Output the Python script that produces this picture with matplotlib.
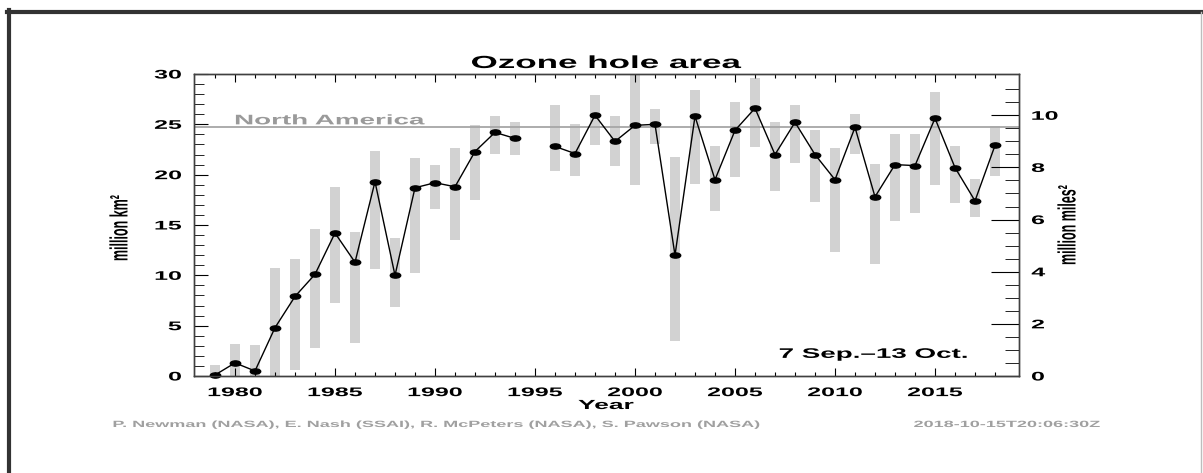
import numpy as np
import matplotlib
matplotlib.use("Agg")
import matplotlib.pyplot as plt
from matplotlib.lines import Line2D
from matplotlib.path import Path
from matplotlib.patheffects import AbstractPathEffect
from matplotlib.transforms import Affine2D

years = np.arange(1979, 2019)
mean_area = [0.1, 1.3, 0.5, 4.8, 7.9, 10.1, 14.2, 11.3, 19.3, 10.0,
             18.7, 19.2, 18.8, 22.3, 24.2, 23.6, np.nan, 22.8, 22.1, 25.9,
             23.3, 24.9, 25.0, 12.0, 25.8, 19.5, 24.4, 26.6, 22.0, 25.2,
             22.0, 19.5, 24.7, 17.8, 21.0, 20.9, 25.6, 20.7, 17.4, 22.9]
min_area = [0.0, 0.0, 0.0, 0.0, 0.6, 2.8, 7.3, 3.3, 10.6, 6.9,
            10.2, 16.6, 13.5, 17.5, 22.1, 22.0, np.nan, 20.4, 19.9, 22.9,
            20.9, 19.0, 23.0, 3.5, 19.1, 16.4, 19.8, 22.7, 18.4, 21.2,
            17.3, 12.3, 22.1, 11.1, 15.4, 16.2, 19.0, 17.2, 15.8, 19.9]
max_area = [1.1, 3.2, 3.1, 10.7, 11.6, 14.6, 18.8, 14.3, 22.4, 13.7,
            21.7, 21.0, 22.6, 24.9, 25.8, 25.2, np.nan, 26.9, 25.0, 27.9,
            25.8, 30.0, 26.5, 21.8, 28.4, 22.8, 27.2, 29.6, 25.2, 26.9,
            24.4, 22.6, 26.0, 21.1, 24.0, 24.0, 28.2, 22.8, 19.6, 24.8]
north_america = 24.7
km2_per_mile2 = 2.58999
xticks = [1980, 1985, 1990, 1995, 2000, 2005, 2010, 2015]
yticks_km = [0, 5, 10, 15, 20, 25, 30]
yticks_mi = [0, 2, 4, 6, 8, 10]

W, H = 1203, 473
SX = 2.0


class Widen(AbstractPathEffect):
    # the source image is stretched sideways, so widen glyphs the same way
    def __init__(self, anchor="center", sx=SX):
        super().__init__()
        self.anchor = anchor
        self.sx = sx

    def draw_path(self, renderer, gc, tpath, affine, rgbFace=None):
        ext = tpath.get_extents(affine)
        x0 = {"left": ext.x0, "center": 0.5 * (ext.x0 + ext.x1), "right": ext.x1}[self.anchor]
        aff = affine + Affine2D().translate(-x0, 0).scale(self.sx, 1).translate(x0, 0)
        renderer.draw_path(gc, tpath, aff, rgbFace)


def fx(px):
    return px / W


def fy(py):
    return 1 - py / H


plt.rcParams["font.family"] = ["Liberation Sans", "DejaVu Sans"]
plt.rcParams["font.weight"] = "bold"

fig = plt.figure(figsize=(W / 100, H / 100), dpi=100)
fig.patch.set_facecolor("white")
ax = fig.add_axes([fx(194), fy(376), fx(1019) - fx(194), fy(74) - fy(376)])

mean_arr = np.array(mean_area)
lo = np.array(min_area)
hi = np.array(max_area)
ax.bar(years, hi - lo, bottom=lo, width=0.5, color="#d2d2d2", zorder=1)
ax.axhline(north_america, color="#a6a6a6", lw=1.3, zorder=2)

ellipse = Path.unit_circle().transformed(Affine2D().scale(2.0, 1.0))
ax.plot(years, mean_arr, color="black", lw=1.0, marker=ellipse,
        markersize=7.5, zorder=3, clip_on=False)

ax.set_xlim(1977.95, 2019.2)
ax.set_ylim(0, 30)
ax.set_xticks(xticks)
ax.set_xticks(years, minor=True)
ax.set_yticks(yticks_km)
ax.set_yticks(np.arange(0, 31, 1), minor=True)
ax.tick_params(axis="x", which="major", direction="in", top=True, length=6,
               width=0.8, labelsize=9, pad=8)
ax.tick_params(axis="x", which="minor", direction="in", top=True, length=3, width=0.8)
ax.tick_params(axis="y", which="major", direction="in", length=10, width=0.8,
               labelsize=9, pad=9)
ax.tick_params(axis="y", which="minor", direction="in", length=7, width=0.6)
for s in ax.spines.values():
    s.set_color("#404040")
    s.set_linewidth(1.0)

ax2 = ax.twinx()
ax2.set_ylim(0, 30 / km2_per_mile2)
ax2.set_yticks(yticks_mi)
ax2.set_yticks(np.arange(0, 11.5, 0.5), minor=True)
ax2.tick_params(axis="y", which="major", direction="in", length=20, width=0.8,
                labelsize=9, pad=9)
ax2.tick_params(axis="y", which="minor", direction="in", length=10, width=0.6)
for s in ax2.spines.values():
    s.set_color("#404040")
    s.set_linewidth(1.0)

for lab in ax.get_xticklabels():
    lab.set_path_effects([Widen("center")])
for lab in ax.get_yticklabels():
    lab.set_path_effects([Widen("right")])
for lab in ax2.get_yticklabels():
    lab.set_path_effects([Widen("left")])

ax.text(1980, 25.0, "North America", color="#9a9a9a", fontsize=10,
        ha="left", va="baseline", path_effects=[Widen("left")], zorder=4)
ax.text(0.938, 0.06, "7 Sep.\u201313 Oct.", transform=ax.transAxes, fontsize=10,
        ha="right", va="baseline", path_effects=[Widen("right")], zorder=4)

fig.text(fx(606), fy(68), "Ozone hole area", fontsize=12.6, ha="center",
         va="baseline", path_effects=[Widen("center")])
fig.text(fx(606), fy(409), "Year", fontsize=9.5, ha="center", va="baseline",
         path_effects=[Widen("center")])
fig.text(fx(120), fy(228), "million km\u00b2", fontsize=9, rotation=90,
         ha="center", va="center", path_effects=[Widen("center")])
fig.text(fx(1068), fy(225), "million miles\u00b2", fontsize=9, rotation=90,
         ha="center", va="center", path_effects=[Widen("center")])
fig.text(fx(113), fy(427),
         "P. Newman (NASA), E. Nash (SSAI), R. McPeters (NASA), S. Pawson (NASA)",
         fontsize=6.5, color="#a0a0a0", ha="left", va="baseline",
         path_effects=[Widen("left")])
fig.text(fx(1100), fy(427), "2018-10-15T20:06:30Z", fontsize=6.5, color="#a0a0a0",
         ha="right", va="baseline", path_effects=[Widen("right")])

# screenshot frame
fig.add_artist(Line2D([fx(7), fx(1203)], [fy(12), fy(12)], color="#333333",
                      lw=3, transform=fig.transFigure))
fig.add_artist(Line2D([fx(9), fx(9)], [fy(10), fy(473)], color="#333333",
                      lw=3, transform=fig.transFigure))
fig.add_artist(Line2D([fx(1201), fx(1201)], [fy(12), fy(473)], color="#bdbdbd",
                      lw=1, transform=fig.transFigure))

fig.savefig("out.png", dpi=100)
